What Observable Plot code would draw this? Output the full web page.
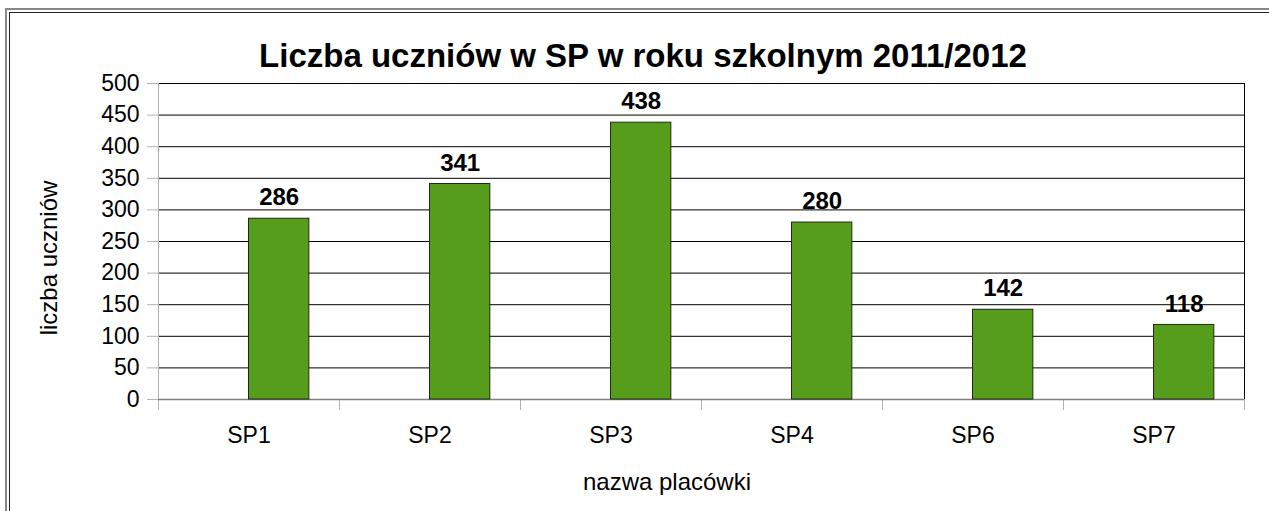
<!DOCTYPE html>
<html>
<head>
<meta charset="utf-8">
<script src="https://cdn.jsdelivr.net/npm/d3@7"></script>
<script src="https://cdn.jsdelivr.net/npm/@observablehq/plot@0.6"></script>
<style>
  html, body { margin: 0; padding: 0; background: #fff; overflow: hidden; }
  body { width: 1269px; height: 511px; position: relative; font-family: "Liberation Sans", Arial, sans-serif; }
  #chart { position: absolute; left: 0; top: 0; }
  .ln { position: absolute; }
  .title { position: absolute; left: 643px; top: 39px; transform: translateX(-50%); font-weight: bold; font-size: 33px; white-space: nowrap; color: #000; line-height: 33px; }
  .ylab { position: absolute; left: 49px; top: 258px; transform: translate(-50%, -50%) rotate(-90deg); font-size: 24px; white-space: nowrap; line-height: 24px; }
  .xlab { position: absolute; left: 667px; top: 470px; transform: translateX(-50%); font-size: 24px; white-space: nowrap; line-height: 24px; }
</style>
</head>
<body>
<div class="ln" style="left:5px;top:8px;width:2px;height:503px;background:#888"></div>
<div class="ln" style="left:5px;top:8px;width:1264px;height:2px;background:#888"></div>
<div class="ln" style="left:9px;top:12px;width:1px;height:499px;background:#222"></div>
<div class="ln" style="left:9px;top:12px;width:1260px;height:1px;background:#222"></div>
<div id="chart"></div>
<div class="title">Liczba uczniów w SP w roku szkolnym 2011/2012</div>
<div class="ylab">liczba uczniów</div>
<div class="xlab">nazwa placówki</div>
<div class="ln" style="left:1250px;top:13px;width:19px;height:498px;background:#fff;z-index:10"></div>
<script>
const categories = ["SP1", "SP2", "SP3", "SP4", "SP6", "SP7"];
const values = [286, 341, 438, 280, 142, 118];
const yTicks = [0, 50, 100, 150, 200, 250, 300, 350, 400, 450, 500];

const data = categories.map((c, i) => ({name: c, value: values[i]}));

const W = 1269, H = 511;
const mL = 158, mR = 25, mT = 83, mB = 112;
const bw = (W - mL - mR) / categories.length;

const chart = Plot.plot({
  width: W,
  height: H,
  marginLeft: mL,
  marginRight: mR,
  marginTop: mT,
  marginBottom: mB,
  style: {fontFamily: "'Liberation Sans', Arial, sans-serif", background: "transparent"},
  x: {domain: categories, padding: 0, label: null},
  y: {domain: [0, 500], label: null},
  marks: [
    Plot.ruleY(yTicks.filter(d => d > 0), {y: d => d, stroke: "#000", strokeWidth: 1}),
    Plot.ruleX([categories[0]], {x: d => d, dx: -bw / 2, stroke: "#b3b3b3", strokeWidth: 1, insetBottom: -11}),
    Plot.ruleX([categories[categories.length - 1]], {x: d => d, dx: bw / 2, stroke: "#000", strokeWidth: 1}),
    Plot.ruleX(categories.slice(1), {x: d => d, dx: -bw / 2, y1: 0, y2: 0, stroke: "#b3b3b3", strokeWidth: 1, insetBottom: -11}),
    Plot.ruleX([categories[categories.length - 1]], {x: d => d, dx: bw / 2, y1: 0, y2: 0, stroke: "#b3b3b3", strokeWidth: 1, insetBottom: -11}),
    Plot.ruleY([0], {stroke: "#808080", strokeWidth: 1.5}),
    Plot.barY(data, {x: "name", y: "value", fill: "#579d1c", stroke: "#1e2a14", strokeWidth: 1, insetLeft: bw * 0.5, insetRight: bw / 6}),
    Plot.text(data, {x: "name", y: "value", text: d => String(d.value), dx: bw / 6, dy: -21, fontSize: 24, fontWeight: "bold", fill: "#000", textAnchor: "middle"}),
    Plot.axisY({ticks: yTicks, tickSize: 11, tickPadding: 8, fontSize: 23, stroke: "#b3b3b3", color: "#000", label: null, tickFormat: d => String(d)}),
    Plot.axisX({tickSize: 0, tickPadding: 27, fontSize: 23, color: "#000", label: null})
  ]
});
document.getElementById("chart").appendChild(chart);
</script>
</body>
</html>
